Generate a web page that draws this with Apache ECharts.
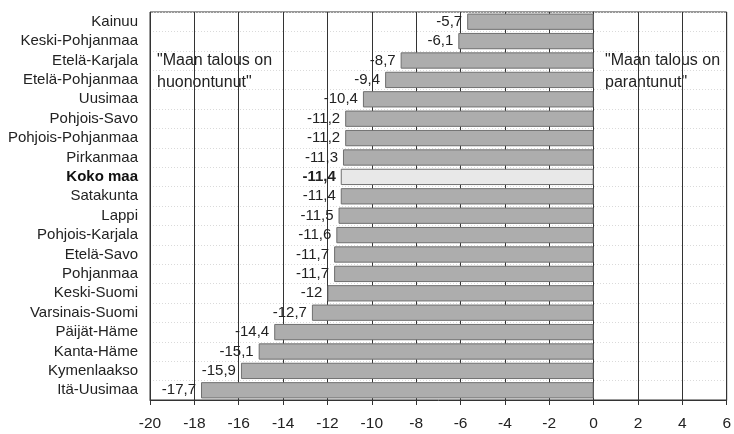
<!DOCTYPE html>
<html><head><meta charset="utf-8">
<script src="https://cdn.jsdelivr.net/npm/echarts@6/dist/echarts.min.js"></script>
<style>html,body{margin:0;padding:0;background:#fff}#c{width:734px;height:434px}</style>
</head><body><div id="c"></div>
<script>
const regions = ["Kainuu","Keski-Pohjanmaa","Etelä-Karjala","Etelä-Pohjanmaa","Uusimaa","Pohjois-Savo","Pohjois-Pohjanmaa","Pirkanmaa","Koko maa","Satakunta","Lappi","Pohjois-Karjala","Etelä-Savo","Pohjanmaa","Keski-Suomi","Varsinais-Suomi","Päijät-Häme","Kanta-Häme","Kymenlaakso","Itä-Uusimaa"];
const values = [-5.7,-6.1,-8.7,-9.4,-10.4,-11.2,-11.2,-11.3,-11.4,-11.4,-11.5,-11.6,-11.7,-11.7,-12,-12.7,-14.4,-15.1,-15.9,-17.7];
const highlight = "Koko maa";
const leftNote = "\"Maan talous on\nhuonontunut\"";
const rightNote = "\"Maan talous on\nparantunut\"";
const FONT = "'Liberation Sans', Arial, sans-serif";

const chart = echarts.init(document.getElementById('c'), null, {renderer:'canvas'});
const data = values.map((v,i)=>{
  const hl = regions[i] === highlight;
  return {
    value: v,
    itemStyle: hl ? {color:'#e8e8e8'} : undefined,
    label: hl ? {fontWeight:'bold'} : undefined
  };
});
chart.setOption({
  animation:false,
  grid:{left:150,right:3,top:12,bottom:34,show:true,borderColor:'#333',borderWidth:1},
  xAxis:{type:'value',min:-20,max:6,interval:2,
    axisLine:{show:true,onZero:false,lineStyle:{color:'#333'}},
    axisTick:{show:true,length:5,lineStyle:{color:'#333'}},
    axisLabel:{fontFamily:FONT,fontSize:15.5,color:'#222',margin:16},
    splitLine:{show:true,lineStyle:{color:'#333',width:1}}
  },
  yAxis:{type:'category',data:regions,inverse:true,
    axisLine:{show:true,lineStyle:{color:'#333'}},
    axisTick:{show:false},
    axisLabel:{fontFamily:FONT,fontSize:15,color:'#222',margin:12,interval:0,
      formatter:v=> v===highlight ? '{b|'+v+'}' : v,
      rich:{b:{fontFamily:FONT,fontSize:15,fontWeight:'bold',color:'#111'}}},
    splitLine:{show:true,interval:0,lineStyle:{color:'#dadada',type:[1,2],width:1}}
  },
  series:[{type:'bar',data:data,barCategoryGap:'16%',
    itemStyle:{color:'#adadad',borderColor:'#707070',borderWidth:1},
    label:{show:true,position:'left',distance:5,fontFamily:FONT,fontSize:15,color:'#222',
      formatter:p=>String(p.value).replace('.',',')}
  }],
  graphic:[
    {type:'text',left:157,top:50,style:{text:leftNote,font:'16px '+FONT,fill:'#222',lineHeight:22}},
    {type:'text',left:605,top:50,style:{text:rightNote,font:'16px '+FONT,fill:'#222',lineHeight:22}}
  ]
});
</script></body></html>
